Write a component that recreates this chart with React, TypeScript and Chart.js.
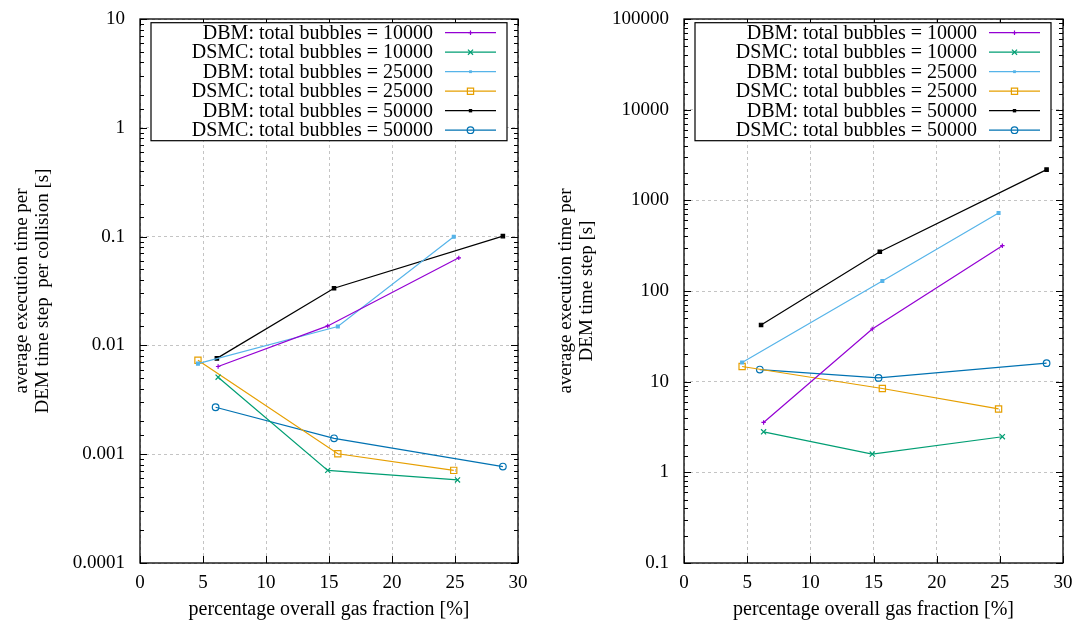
import React, { useEffect, useRef } from 'react';
import { Chart, registerables } from 'chart.js';

Chart.register(...registerables);

const FONT = '"Liberation Serif", "Times New Roman", serif';

// ---------- data ----------
const seriesLabels = [
  'DBM: total bubbles = 10000',
  'DSMC: total bubbles = 10000',
  'DBM: total bubbles = 25000',
  'DSMC: total bubbles = 25000',
  'DBM: total bubbles = 50000',
  'DSMC: total bubbles = 50000',
];

const xTickValues = [0, 5, 10, 15, 20, 25, 30];
const leftYTickLabels = ['0.0001', '0.001', '0.01', '0.1', '1', '10'];
const rightYTickLabels = ['0.1', '1', '10', '100', '1000', '10000', '100000'];

const xAxisTitle = 'percentage overall gas fraction [%]';
const leftYTitle = ['average execution time per', 'DEM time step  per collision [s]'];
const rightYTitle = ['average execution time per', 'DEM time step [s]'];

// left panel: per DEM time step per collision
const leftDbm10000X = [6.2, 14.9, 25.3];
const leftDbm10000Y = [0.0064, 0.0151, 0.0638];
const leftDsmc10000X = [6.2, 14.9, 25.2];
const leftDsmc10000Y = [0.0051, 0.00071, 0.00058];
const leftDbm25000X = [4.6, 15.7, 24.9];
const leftDbm25000Y = [0.0068, 0.0149, 0.0996];
const leftDsmc25000X = [4.6, 15.7, 24.9];
const leftDsmc25000Y = [0.0073, 0.00101, 0.00071];
const leftDbm50000X = [6.1, 15.4, 28.8];
const leftDbm50000Y = [0.0076, 0.0335, 0.101];
const leftDsmc50000X = [6.0, 15.4, 28.8];
const leftDsmc50000Y = [0.0027, 0.0014, 0.00077];

// right panel: per DEM time step
const rightDbm10000X = [6.3, 14.9, 25.2];
const rightDbm10000Y = [3.55, 38.1, 316];
const rightDsmc10000X = [6.3, 14.9, 25.2];
const rightDsmc10000Y = [2.8, 1.59, 2.47];
const rightDbm25000X = [4.6, 15.7, 24.9];
const rightDbm25000Y = [16.3, 129, 726];
const rightDsmc25000X = [4.6, 15.7, 24.9];
const rightDsmc25000Y = [14.7, 8.4, 5.0];
const rightDbm50000X = [6.1, 15.5, 28.7];
const rightDbm50000Y = [42.2, 271, 2180];
const rightDsmc50000X = [6.0, 15.4, 28.7];
const rightDsmc50000Y = [13.6, 11.0, 16.0];

// ---------- styles ----------
const seriesColors = ['#9400d3', '#009e73', '#56b4e9', '#e69f00', '#000000', '#0072b2'];
const seriesPointStyles = ['cross', 'crossRot', 'rect', 'rect', 'rect', 'circle'];
const seriesPointRadius = [2.2, 3.6, 2.0, 4.4, 2.4, 3.3];
const seriesPointFilled = [true, false, true, false, true, false];

const isDecade = (v: number) => {
  const l = Math.log10(v);
  return Math.abs(l - Math.round(l)) < 1e-6;
};

function drawMarker(ctx: CanvasRenderingContext2D, style: string, x: number, y: number, r: number, color: string, filled: boolean) {
  ctx.save();
  ctx.strokeStyle = color;
  ctx.fillStyle = color;
  ctx.lineWidth = 1.2;
  ctx.setLineDash([]);
  ctx.beginPath();
  if (style === 'cross') {
    ctx.moveTo(x - r, y); ctx.lineTo(x + r, y);
    ctx.moveTo(x, y - r); ctx.lineTo(x, y + r);
    ctx.stroke();
  } else if (style === 'crossRot') {
    const d = r * Math.SQRT1_2;
    ctx.moveTo(x - d, y - d); ctx.lineTo(x + d, y + d);
    ctx.moveTo(x - d, y + d); ctx.lineTo(x + d, y - d);
    ctx.stroke();
  } else if (style === 'rect') {
    const s = r * Math.SQRT1_2;
    ctx.rect(x - s, y - s, 2 * s, 2 * s);
    if (filled) ctx.fill(); else ctx.stroke();
  } else {
    ctx.arc(x, y, r, 0, Math.PI * 2);
    if (filled) ctx.fill(); else ctx.stroke();
  }
  ctx.restore();
}

const gnuplotFrame = {
  id: 'gnuplotFrame',
  afterDraw(chart: any, _args: any, opts: any) {
    const { ctx, chartArea: a } = chart;
    const xs = chart.scales.x;
    const ys = chart.scales.y;
    ctx.save();
    ctx.strokeStyle = '#000';
    ctx.lineWidth = 1;
    ctx.setLineDash([]);
    ctx.beginPath();
    xs.ticks.forEach((t: any) => {
      const px = Math.round(xs.getPixelForValue(t.value)) + 0.5;
      ctx.moveTo(px, a.bottom); ctx.lineTo(px, a.bottom - 7);
      ctx.moveTo(px, a.top); ctx.lineTo(px, a.top + 7);
    });
    ys.ticks.forEach((t: any) => {
      const py = Math.round(ys.getPixelForValue(t.value)) + 0.5;
      const len = isDecade(t.value) ? 7 : 4;
      ctx.moveTo(a.left, py); ctx.lineTo(a.left + len, py);
      ctx.moveTo(a.right, py); ctx.lineTo(a.right - len, py);
    });
    ctx.stroke();
    ctx.lineWidth = 1.3;
    ctx.strokeRect(a.left, a.top, a.right - a.left, a.bottom - a.top);

    // legend box (gnuplot style: text right-aligned, sample to the right)
    const boxRight = a.right - opts.inset;
    const boxLeft = boxRight - 356;
    const boxTop = a.top + 3.7;
    const boxBottom = a.top + 121.7;
    ctx.fillStyle = '#fff';
    ctx.fillRect(boxLeft, boxTop, boxRight - boxLeft, boxBottom - boxTop);
    ctx.lineWidth = 1.2;
    ctx.strokeStyle = '#000';
    ctx.strokeRect(boxLeft, boxTop, boxRight - boxLeft, boxBottom - boxTop);
    ctx.font = `20px ${FONT}`;
    ctx.textAlign = 'right';
    ctx.textBaseline = 'middle';
    chart.data.datasets.forEach((ds: any, i: number) => {
      const y = a.top + 13.7 + i * 19.5;
      ctx.fillStyle = '#000';
      ctx.fillText(ds.label, boxRight - 74, y + 1);
      ctx.strokeStyle = ds.borderColor;
      ctx.lineWidth = 1.2;
      ctx.beginPath();
      ctx.moveTo(boxRight - 62, y);
      ctx.lineTo(boxRight - 11, y);
      ctx.stroke();
      drawMarker(ctx, seriesPointStyles[i], boxRight - 36.5, y, seriesPointRadius[i], ds.borderColor, seriesPointFilled[i]);
    });
    ctx.restore();
  },
};

type Panel = {
  width: number;
  yAxisWidth: number;
  padRight: number;
  yMin: number;
  yMax: number;
  yTickLabels: string[];
  yTitle: string[];
  yTitlePad: number;
  legendInset: number;
  xs: number[][];
  ys: number[][];
};

const leftPanel: Panel = {
  width: 540,
  yAxisWidth: 140,
  padRight: 22,
  yMin: 0.0001,
  yMax: 10,
  yTickLabels: leftYTickLabels,
  yTitle: leftYTitle,
  yTitlePad: 12,
  legendInset: 11,
  xs: [leftDbm10000X, leftDsmc10000X, leftDbm25000X, leftDsmc25000X, leftDbm50000X, leftDsmc50000X],
  ys: [leftDbm10000Y, leftDsmc10000Y, leftDbm25000Y, leftDsmc25000Y, leftDbm50000Y, leftDsmc50000Y],
};

const rightPanel: Panel = {
  width: 538,
  yAxisWidth: 144,
  padRight: 15,
  yMin: 0.1,
  yMax: 100000,
  yTickLabels: rightYTickLabels,
  yTitle: rightYTitle,
  yTitlePad: 16,
  legendInset: 12,
  xs: [rightDbm10000X, rightDsmc10000X, rightDbm25000X, rightDsmc25000X, rightDbm50000X, rightDsmc50000X],
  ys: [rightDbm10000Y, rightDsmc10000Y, rightDbm25000Y, rightDsmc25000Y, rightDbm50000Y, rightDsmc50000Y],
};

function PanelChart({ panel, left }: { panel: Panel; left: number }) {
  const ref = useRef<HTMLCanvasElement>(null);
  useEffect(() => {
    if (!ref.current) return;
    const datasets = seriesLabels.map((label, i) => ({
      label,
      data: panel.xs[i].map((x, j) => ({ x, y: panel.ys[i][j] })),
      borderColor: seriesColors[i],
      backgroundColor: seriesPointFilled[i] ? seriesColors[i] : 'rgba(0,0,0,0)',
      borderWidth: 1.2,
      pointStyle: seriesPointStyles[i],
      pointRadius: seriesPointRadius[i],
      pointBorderWidth: 1.2,
      showLine: true,
      tension: 0,
    }));
    const chart = new Chart(ref.current, {
      type: 'scatter',
      data: { datasets },
      options: {
        animation: false,
        responsive: false,
        events: [],
        layout: { padding: { top: 19, right: panel.padRight, left: 0, bottom: 0 } },
        plugins: {
          legend: { display: false },
          tooltip: { enabled: false },
          gnuplotFrame: { inset: panel.legendInset },
        } as any,
        scales: {
          x: {
            type: 'linear',
            min: 0,
            max: 30,
            afterBuildTicks: (scale: any) => {
              scale.ticks = xTickValues.map((v) => ({ value: v }));
            },
            afterFit: (scale: any) => {
              scale.height = 63;
              scale.paddingLeft = 0;
              scale.paddingRight = 0;
            },
            grid: {
              drawTicks: false,
              color: '#c4c4c4',
              lineWidth: 1,
            },
            border: { display: false, dash: [3, 3] },
            ticks: {
              padding: 9,
              color: '#000',
              font: { family: FONT, size: 19 },
              callback: (v: any) => String(v),
            },
            title: {
              display: true,
              text: xAxisTitle,
              color: '#000',
              font: { family: FONT, size: 20, lineHeight: 1.05 },
              padding: { top: 0, bottom: 6 },
            },
          },
          y: {
            type: 'logarithmic',
            min: panel.yMin,
            max: panel.yMax,
            afterFit: (scale: any) => {
              scale.width = panel.yAxisWidth;
              scale.paddingTop = 0;
              scale.paddingBottom = 0;
            },
            grid: {
              drawTicks: false,
              color: (c: any) => (c.tick && isDecade(c.tick.value) ? '#c4c4c4' : 'rgba(0,0,0,0)'),
              lineWidth: 1,
            },
            border: { display: false, dash: [3, 3] },
            ticks: {
              autoSkip: false,
              padding: 15,
              color: '#000',
              font: { family: FONT, size: 19 },
              callback: (v: any) => {
                const n = Number(v);
                const lbl = panel.yTickLabels.find((l) => Math.abs(Math.log10(Number(l)) - Math.log10(n)) < 1e-6);
                return lbl ?? '';
              },
            },
            title: {
              display: true,
              text: panel.yTitle,
              color: '#000',
              font: { family: FONT, size: 19, lineHeight: 1.08 },
              padding: { top: panel.yTitlePad, bottom: 0 },
            },
          },
        },
      } as any,
      plugins: [gnuplotFrame],
    });
    return () => chart.destroy();
  }, [panel]);
  return (
    <canvas
      ref={ref}
      width={panel.width}
      height={626}
      style={{ position: 'absolute', left, top: 0, width: panel.width, height: 626, display: 'block' }}
    />
  );
}

export default function App() {
  return (
    <div style={{ position: 'absolute', left: 0, top: 0, width: 1078, height: 626, background: '#fff' }}>
      <PanelChart panel={leftPanel} left={0} />
      <PanelChart panel={rightPanel} left={540} />
    </div>
  );
}
